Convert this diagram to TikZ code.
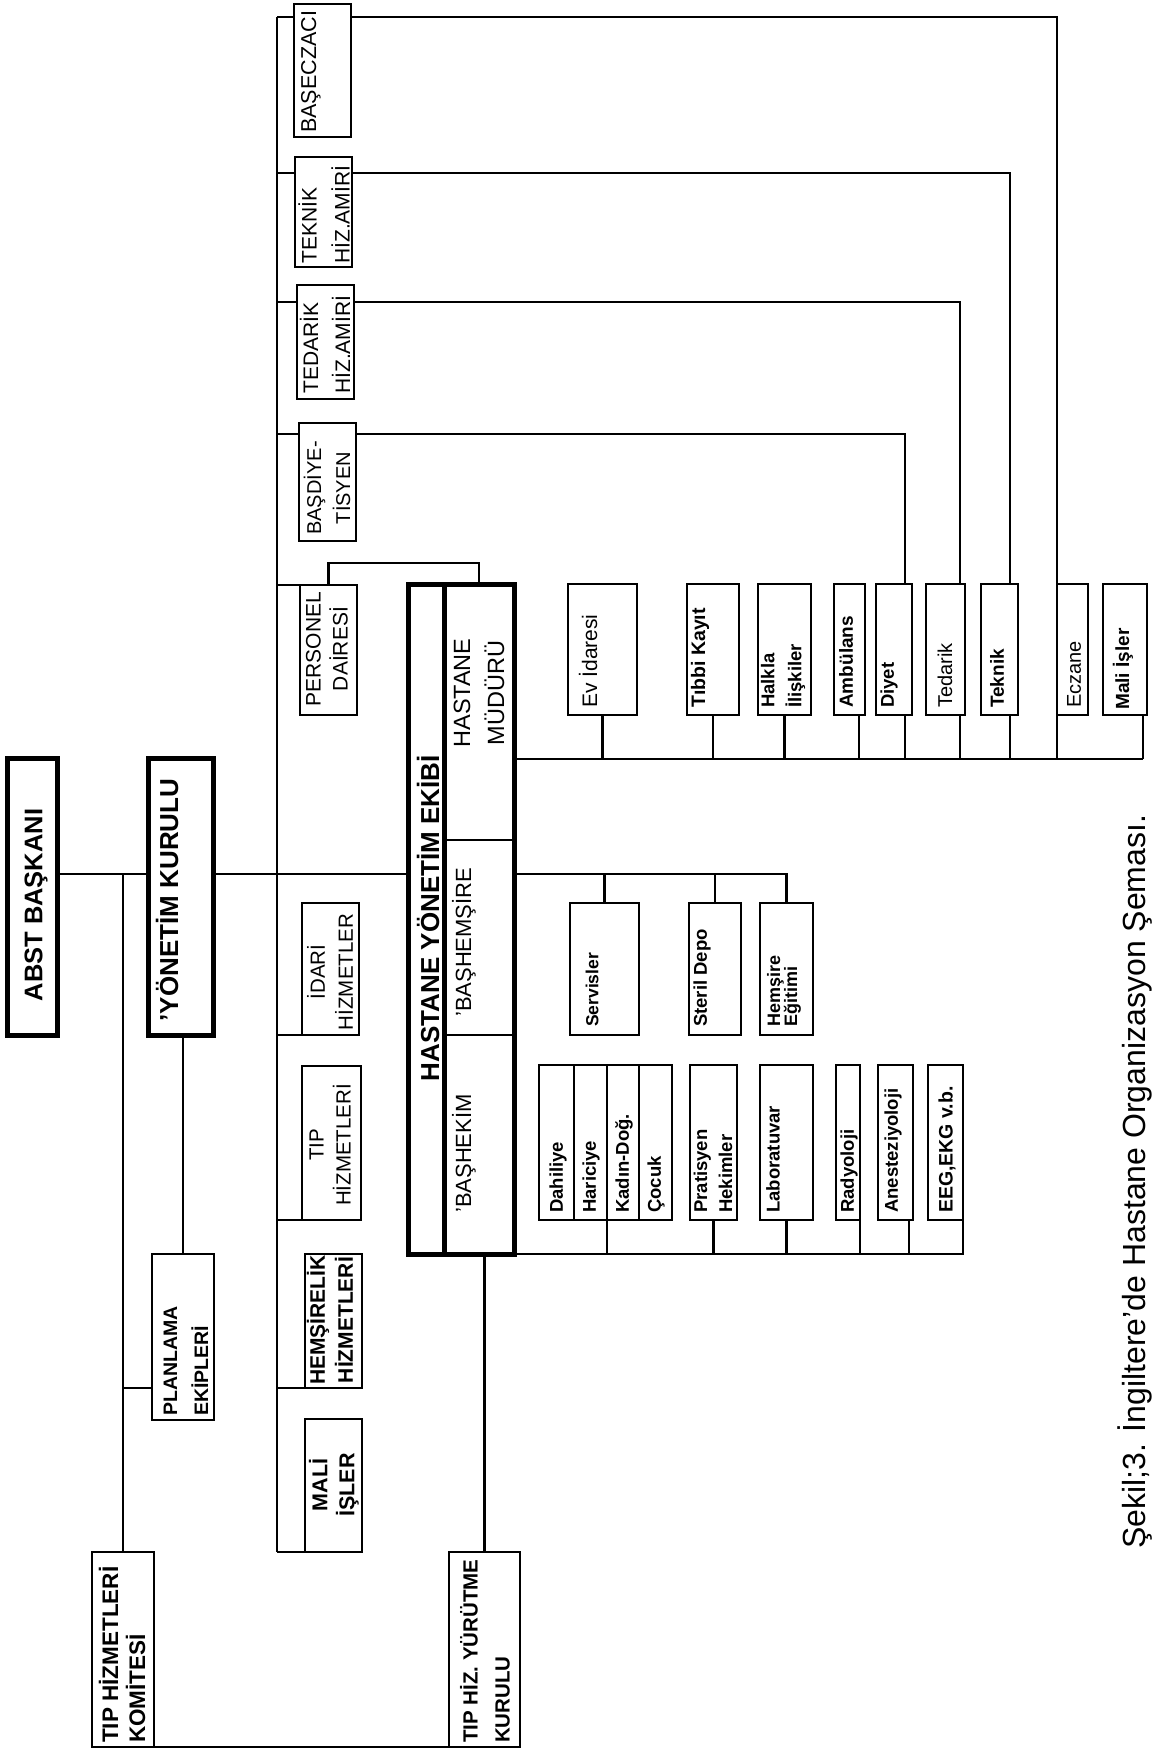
\documentclass[tikz,border=0pt]{standalone}
\usepackage{fontspec}
\setmainfont{Liberation Sans}
\usetikzlibrary{fit,calc}
\newcommand\fz[2]{\fontsize{#1}{#2}\selectfont}
\begin{document}
\begin{tikzpicture}[x=1pt,y=-1pt,
  box/.style={draw, line width=2.6pt, inner sep=0pt, outer sep=0pt},
  heavy/.style={draw, line width=5pt, inner sep=0pt, outer sep=0pt},
  ln/.style={line width=2.6pt},
  lb/.style={rotate=90, inner sep=0pt},
  lbl/.style={lb, anchor=west, align=left},
  lbc/.style={lb, anchor=center, align=center}]
\useasboundingbox (0,0) rectangle (1151,1752);
\newcommand\bx[5]{\node[box, fit={(#2,#3)(#4,#5)}] (#1) {};}
% ---- column on the trunk
\bx{bsc}{294}{4}{351}{137}
\bx{tkh}{295}{157}{352}{267}
\bx{tdh}{297}{285}{354}{399}
\bx{bdy}{299}{423}{356}{541}
\bx{prs}{300}{585}{357}{715}
\bx{idr}{302}{903}{359}{1035}
\bx{tph}{302}{1066}{361}{1220}
\bx{hmh}{305}{1254}{362}{1388}
\bx{mli}{305}{1419}{362}{1552}
% ---- left part
\node[heavy, fit={(7,758)(57,1035)}] (abst) {};
\node[heavy, fit={(148,758)(213,1035)}] (ykn) {};
\bx{pln}{152}{1254}{214}{1420}
\bx{thk}{92}{1552}{154}{1747}
\bx{thy}{449}{1552}{520}{1747}
% ---- hastane yonetim ekibi
\bx{hm}{444}{584}{514}{840}
\bx{hs}{444}{840}{514}{1035}
\bx{hk}{444}{1035}{514}{1254}
\node[heavy, fit={(408,584)(514,1254)}] (hye) {};
\draw[line width=5pt] (hm.north west) -- (hk.south west);
% ---- hastane muduru children
\bx{evi}{568}{584}{637}{715}
\bx{tbk}{687}{584}{739}{715}
\bx{hli}{758}{584}{811}{715}
\bx{amb}{834}{584}{865}{715}
\bx{diy}{876}{584}{912}{715}
\bx{tdr}{926}{584}{965}{715}
\bx{tkn}{981}{584}{1018}{715}
\bx{ecz}{1057}{584}{1088}{715}
\bx{mis}{1103}{584}{1147}{715}
% ---- bashemsire children
\bx{srv}{570}{903}{639}{1035}
\bx{std}{689}{903}{741}{1035}
\bx{heg}{760}{903}{813}{1035}
% ---- bashekim children
\bx{dah}{539}{1065}{574}{1220}
\bx{har}{574}{1065}{607}{1220}
\bx{kad}{607}{1065}{639}{1220}
\bx{coc}{639}{1065}{672}{1220}
\bx{prt}{690}{1065}{737}{1220}
\bx{lab}{760}{1065}{813}{1220}
\bx{rad}{836}{1065}{860}{1220}
\bx{ans}{878}{1065}{913}{1220}
\bx{eeg}{928}{1065}{963}{1220}

% ---- trunk and branches
\coordinate (j1) at (277,17);
\coordinate (j2) at (277,173);
\coordinate (j3) at (277,302);
\coordinate (j4) at (277,434);
\draw[ln] (j1) -- (j1 |- mli.south);
\draw[ln] (j1) -- (j1 -| bsc.west);
\draw[ln] (j2) -- (j2 -| tkh.west);
\draw[ln] (j3) -- (j3 -| tdh.west);
\draw[ln] (j4) -- (j4 -| bdy.west);
\draw[ln] (j1 |- prs.north) -- (prs.north west);
\draw[ln] (j1 |- idr.south) -- (idr.south west);
\draw[ln] (j1 |- tph.south) -- (tph.south west);
\draw[ln] (j1 |- hmh.south) -- (hmh.south west);
\draw[ln] (j1 |- mli.south) -- (mli.south west);
% ---- long lines to the right
\coordinate (dTkn) at ($(tkn.north east)+(-8,0)$);
\coordinate (dTdr) at ($(tdr.north east)+(-5,0)$);
\coordinate (dDiy) at ($(diy.north east)+(-7,0)$);
\draw[ln] (j1 -| bsc.east) -| (ecz.north west);
\draw[ln] (j2 -| tkh.east) -| (dTkn);
\draw[ln] (j3 -| tdh.east) -| (dTdr);
\draw[ln] (j4 -| bdy.east) -| (dDiy);
% ---- personel bracket
\draw[ln] (prs.north) -- ++(0,-22) -| (hm.north);
% ---- hastane muduru bus
\coordinate (hb) at (514,759);
\coordinate (dMis) at ($(mis.south east)+(-4,0)$);
\coordinate (dAmb) at ($(amb.south east)+(-6,0)$);
\draw[ln] (hb) -- (hb -| dMis);
\draw[ln] (evi.south) -- (evi.south |- hb);
\draw[ln] (tbk.south) -- (tbk.south |- hb);
\draw[ln] (hli.south) -- (hli.south |- hb);
\draw[ln] (dAmb) -- (dAmb |- hb);
\draw[ln] (dDiy |- diy.south) -- (dDiy |- hb);
\draw[ln] (dTdr |- tdr.south) -- (dTdr |- hb);
\draw[ln] (dTkn |- tkn.south) -- (dTkn |- hb);
\draw[ln] (ecz.south west) -- (ecz.south west |- hb);
\draw[ln] (dMis) -- (dMis |- hb);
% ---- left part connectors
\coordinate (ab) at (57,874);
\coordinate (pj) at (123,1388);
\draw[ln] (abst.east |- ab) -- (ykn.west |- ab);
\draw[ln] (ykn.east |- ab) -- (hye.west |- ab);
\draw[ln] (thk.north |- ab) -- (thk.north);
\draw[ln] (thk.north |- pj) -- (pln.west |- pj);
\draw[ln] (pln.north |- ykn.south) -- (pln.north);
\draw[ln] (thy.north |- hye.south) -- (thy.north);
\draw[ln] (thk.south east) -- (thy.south west);
% ---- bashemsire bus
\draw[ln] (hye.east |- ab) -| (heg.north);
\draw[ln] (srv.north) -- (srv.north |- ab);
\draw[ln] (std.north) -- (std.north |- ab);
% ---- bashekim bus
\coordinate (dAns) at ($(ans.south east)+(-4,0)$);
\draw[ln] (hye.south east) -| (eeg.south east);
\draw[ln] (har.south east) -- (har.south east |- hye.south);
\draw[ln] (prt.south) -- (prt.south |- hye.south);
\draw[ln] (lab.south) -- (lab.south |- hye.south);
\draw[ln] (rad.south east) -- (rad.south east |- hye.south);
\draw[ln] (dAns) -- (dAns |- hye.south);

% ---- labels
\node[lbl, font=\fz{21.5}{26}] at (311,133) {BAŞECZACI};
\node[lbl, font=\fz{21}{33}] at (324,264) {TEKNİK\\HİZ.AMİRİ};
\node[lbl, font=\fz{21}{32}] at (325,394) {TEDARİK\\HİZ.AMİRİ};
\node[lbc, font=\fz{20}{29}] at (327,488) {BAŞDİYE-\\TİSYEN};
\node[lbc, font=\fz{21}{27}] at (327,649) {PERSONEL\\DAİRESİ};
\node[lbc, font=\fz{20.5}{28}] at (330,972) {İDARİ\\HİZMETLER};
\node[lbc, font=\fz{20.5}{27}] at (330,1145) {TIP\\HİZMETLERİ};
\node[lbc, font=\bfseries\fz{21}{28}] at (330,1320) {HEMŞİRELİK\\HİZMETLERİ};
\node[lbc, font=\bfseries\fz{21.5}{27}] at (334,1485) {MALİ\\İŞLER};
\node[lbl, font=\bfseries\fz{19.5}{31}] at (186,1416) {PLANLAMA\\EKİPLERİ};
\node[lbl, font=\bfseries\fz{22.5}{27}] at (122,1743) {TIP HİZMETLERİ\\KOMİTESİ};
\node[lbl, font=\bfseries\fz{20.5}{32}] at (485,1743) {TIP HİZ. YÜRÜTME\\KURULU};
\node[lbc, font=\bfseries\fz{25.5}{30}] at (36,905) {ABST BAŞKANI};
\node[lbc, font=\bfseries\fz{26}{30}] at (167,900) {'YÖNETİM KURULU};
\node[lbc, font=\bfseries\fz{26}{30}] at (428,918) {HASTANE YÖNETİM EKİBİ};
\node[lbc, font=\fz{23.5}{34}] at (479,693) {HASTANE\\MÜDÜRÜ};
\node[lbl, font=\fz{22}{26}] at (464,1017) {'BAŞHEMŞİRE};
\node[lbl, font=\fz{22}{26}] at (464,1213) {'BAŞHEKİM};
\node[lbl, font=\fz{21}{25}] at (588,708) {Ev İdaresi};
\node[lbl, font=\bfseries\fz{19.5}{24}] at (700,708) {Tıbbi Kayıt};
\node[lbl, font=\bfseries\fz{18.5}{27}] at (783,708) {Halkla\\İlişkiler};
\node[lbl, font=\bfseries\fz{19}{24}] at (846,708) {Ambülans};
\node[lbl, font=\bfseries\fz{18.5}{24}] at (889,708) {Diyet};
\node[lbl, font=\fz{20}{24}] at (945,708) {Tedarik};
\node[lbl, font=\bfseries\fz{19}{24}] at (997,708) {Teknik};
\node[lbl, font=\fz{20}{24}] at (1074,708) {Eczane};
\node[lbl, font=\bfseries\fz{19}{24}] at (1123,710) {Mali İşler};
\node[lbl, font=\bfseries\fz{17.5}{22}] at (592,1027) {Servisler};
\node[lbl, font=\bfseries\fz{18.5}{22}] at (702,1027) {Steril Depo};
\node[lbl, font=\bfseries\fz{18}{17}] at (784,1027) {Hemşire\\Eğitimi};
\node[lbl, font=\bfseries\fz{18.5}{22}] at (558,1213) {Dahiliye};
\node[lbl, font=\bfseries\fz{18.5}{22}] at (591,1213) {Hariciye};
\node[lbl, font=\bfseries\fz{18.5}{22}] at (624,1213) {Kadın-Doğ.};
\node[lbl, font=\bfseries\fz{18.5}{22}] at (656,1213) {Çocuk};
\node[lbl, font=\bfseries\fz{18.5}{25}] at (713,1213) {Pratisyen\\Hekimler};
\node[lbl, font=\bfseries\fz{18.5}{22}] at (773,1213) {Laboratuvar};
\node[lbl, font=\bfseries\fz{18.5}{22}] at (849,1213) {Radyoloji};
\node[lbl, font=\bfseries\fz{18.5}{22}] at (893,1213) {Anesteziyoloji};
\node[lbl, font=\bfseries\fz{19.5}{22}] at (947,1213) {EEG,EKG v.b.};
\node[lbl, font=\fz{32}{38}] (cap) at (1135,1549) {Şekil;3. İngiltere'de Hastane Organizasyon Şeması.};
\end{tikzpicture}
\end{document}
